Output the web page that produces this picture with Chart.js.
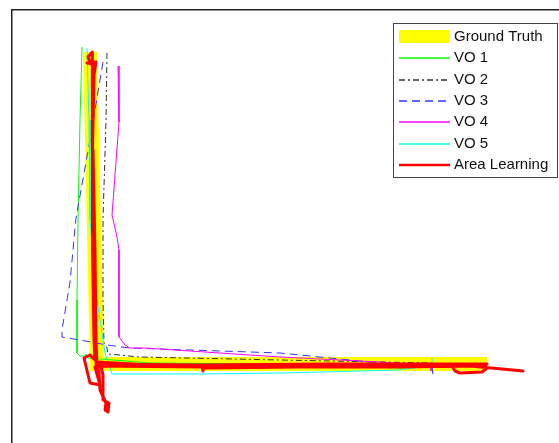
<!DOCTYPE html>
<html><head><meta charset="utf-8">
<script src="https://cdn.jsdelivr.net/npm/chart.js@4/dist/chart.umd.min.js"></script>
<style>html,body{margin:0;padding:0;background:#fff;overflow:hidden}</style>
</head><body>
<canvas id="c" width="559" height="443"></canvas>
<script>
// Series labels
const seriesLabels = ['Ground Truth', 'VO 1', 'VO 2', 'VO 3', 'VO 4', 'VO 5', 'Area Learning'];

// Ground truth (metres)
const gtX = [-0.7, 0, 39.0];
const gtY = [31.1, -0.1, -0.1];

// VO 1
const vo1X = [-1.5, -1.7, -1.9, -2.0, -2.0, -1.7, -1.2, -1.1, -0.9, 5.3, 18.3, 30.3, 33.5];
const vo1Y = [31.6, 24.3, 14.3, 6.3, 1.0, 0.7, 0.7, 0.9, 0.5, 0.0, -0.1, -0.5, -0.4];

// VO 2
const vo2X = [1.0, 0.9, 0.6, 0.6, 0.7, 1.0, 1.1, 4.3, 18.3, 33.5];
const vo2Y = [31.0, 24.3, 14.3, 6.3, 2.0, 1.5, 0.9, 0.6, 0.3, 0.0];

// VO 3
const vo3X = [0.6, -0.7, -2.1, -2.7, -3.5, -3.5, -1.7, 1.0, 3.3, 18.3, 27.3, 33.5, 33.6];
const vo3Y = [30.1, 22.3, 14.5, 8.1, 3.3, 2.6, 2.3, 1.8, 1.5, 1.0, 0.1, -0.3, -1.2];

// VO 4
const vo4X = [2.1, 2.2, 1.5, 2.0, 2.2, 2.2, 2.8, 3.3, 4.8, 18.3, 28.3, 33.5, 33.4];
const vo4Y = [29.7, 24.1, 14.8, 12.6, 11.3, 2.6, 1.8, 1.5, 1.5, 0.6, 0.1, -0.3, -0.8];

// VO 5
const vo5X = [-1.0, -0.8, -0.7, 0.0, 0.8, 1.5, 10.3, 18.3, 30.3, 33.5, 33.5];
const vo5Y = [31.5, 24.3, 14.3, 6.3, 1.0, -1.1, -1.1, -1.0, -0.7, -0.2, 0.5];

// Area Learning
const alX = [-0.1, 10.3, 23.3, 35.5, 39.0,
  38.7, 37.3, 30.3, 20.3, 10.6, 10.6, 10.5, 0.0,
  -0.1, -0.2, -0.4, -0.5, -0.4, -0.5, -0.9, -0.6, -0.4, -1.0, -0.1, -0.3, -0.45, -0.45, -0.3, -0.2,
  -0.7, -1.3, -0.7, 0.3, -0.2, 0.3, 0.6, 0.6, 1.2, 1.1, 0.8, 0.9, 0.3, 0.2, -0.1,
  5.3, 15.3, 25.3, 34.3, 35.5, 35.8, 36.3, 38.5, 39.0, 38.3, 37.3, 42.6];
const alY = [-0.1, -0.2, -0.1, -0.1, -0.1,
  -0.4, -0.3, -0.4, -0.4, -0.5, -0.8, -0.4, -0.3,
  2.3, 11.3, 21.3, 28.8, 31.0, 31.1, 30.6, 29.9, 29.9, 30.0, 30.1, 28.8, 21.3, 11.3, 2.3, 0.3,
  0.8, 0.5, -2.0, -2.2, -0.4, 0.1, -1.2, -3.7, -4.0, -4.9, -4.7, -4.0, -2.7, -0.9, 0.1,
  -0.2, -0.3, -0.2, -0.2, -0.3, -0.8, -1.0, -0.9, -0.5, -0.2, -0.3, -0.8];

// Axis range (metres)
const xRange = [-8.5, 46.2];
const yRange = [-8.0, 35.3];

function pts(xs, ys) { return xs.map((x, i) => ({ x: x, y: ys[i] })); }

const datasets = [
  { label: seriesLabels[0], data: pts(gtX, gtY), borderColor: '#ffff00', borderWidth: 14, order: 10, band: true, borderJoinStyle: 'miter' },
  { label: seriesLabels[1], data: pts(vo1X, vo1Y), borderColor: '#00ff00', borderWidth: 1, order: 6 },
  { label: seriesLabels[2], data: pts(vo2X, vo2Y), borderColor: '#333333', borderWidth: 1, borderDash: [6, 3, 2, 3], order: 5 },
  { label: seriesLabels[3], data: pts(vo3X, vo3Y), borderColor: '#3333ff', borderWidth: 1, borderDash: [8, 5], order: 4 },
  { label: seriesLabels[4], data: pts(vo4X, vo4Y), borderColor: '#ff00ff', borderWidth: 1, order: 3 },
  { label: seriesLabels[5], data: pts(vo5X, vo5Y), borderColor: '#00ffff', borderWidth: 1, order: 2 },
  { label: seriesLabels[6], data: pts(alX, alY), borderColor: '#ff0000', borderWidth: 3, order: 0, borderCapStyle: 'round' }
];
datasets.forEach(d => {
  d.pointRadius = 0; d.tension = 0; d.fill = false; d.showLine = true;
  if (!d.borderJoinStyle) d.borderJoinStyle = 'round';
});

const boxLegend = {
  id: 'boxLegend',
  afterDraw(chart) {
    const ctx = chart.ctx;
    ctx.save();
    ctx.fillStyle = '#ffffff';
    ctx.fillRect(393.5, 23.5, 164, 154);
    ctx.strokeStyle = '#444444';
    ctx.lineWidth = 1;
    ctx.strokeRect(393.5, 23.5, 164, 154);
    ctx.font = '15px "Liberation Sans", Arial, sans-serif';
    ctx.textBaseline = 'middle';
    ctx.textAlign = 'left';
    chart.data.datasets.forEach((ds, i) => {
      const y = 37 + i * 21.3;
      if (ds.band) {
        ctx.fillStyle = ds.borderColor;
        ctx.fillRect(399, y - 7, 51, 13);
      } else {
        ctx.beginPath();
        ctx.setLineDash(ds.borderDash || []);
        ctx.strokeStyle = ds.borderColor;
        ctx.lineWidth = i === 6 ? 2.5 : 1.5;
        ctx.moveTo(399, Math.round(y));
        ctx.lineTo(450, Math.round(y));
        ctx.stroke();
        ctx.setLineDash([]);
      }
      ctx.fillStyle = '#111111';
      ctx.fillText(ds.label, 454, y);
    });
    ctx.restore();
  }
};

new Chart(document.getElementById('c'), {
  type: 'line',
  data: { datasets: datasets },
  options: {
    responsive: false,
    animation: false,
    layout: { padding: { left: 12, top: 10, right: 0, bottom: 0 } },
    plugins: { legend: { display: false }, tooltip: { enabled: false } },
    scales: {
      x: { type: 'linear', position: 'top', min: xRange[0], max: xRange[1],
           ticks: { display: false }, grid: { display: false, drawTicks: false },
           border: { display: true, color: '#222222', width: 1.5 } },
      y: { type: 'linear', position: 'left', min: yRange[0], max: yRange[1],
           ticks: { display: false }, grid: { display: false, drawTicks: false },
           border: { display: true, color: '#222222', width: 1.5 } }
    }
  },
  plugins: [boxLegend]
});
</script>
</body></html>
